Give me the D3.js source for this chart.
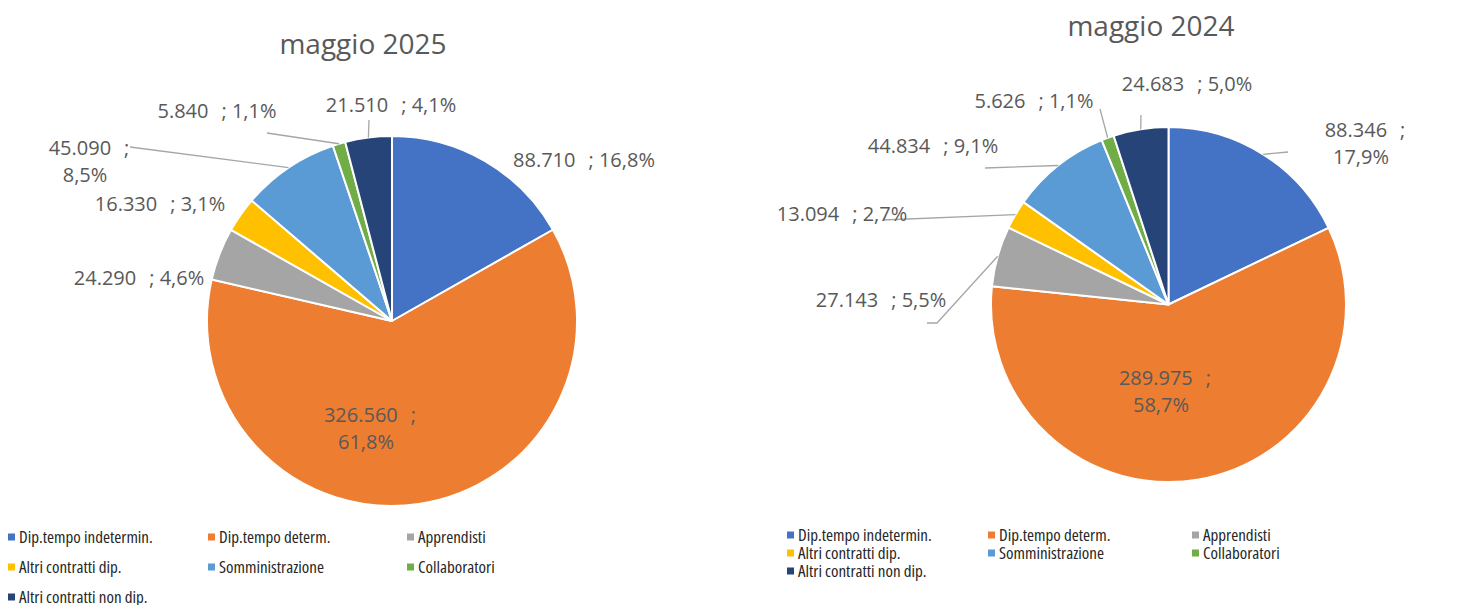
<!DOCTYPE html>
<html lang="it">
<head>
    <meta charset="UTF-8">
    <title>Contratti maggio 2025 / maggio 2024</title>
    <script src="https://d3js.org/d3.v7.min.js"></script>
    <style>
        body {
            margin: 0;
            padding: 0;
            background: #ffffff;
            font-family: "Open Sans", Arial, sans-serif;
            overflow: hidden;
        }
        .title { fill: #595959; font-size: 28px; }
        .lbl { fill: #595959; font-size: 20px; }
        .legend text { fill: #262626; font-size: 17px; font-stretch: 83%; }
    </style>
</head>
<body>
    <svg id="chart" width="1465" height="605"></svg>

    <script>
        // data
        const categories = [
            "Dip.tempo indetermin.", "Dip.tempo determ.", "Apprendisti",
            "Altri contratti dip.", "Somministrazione", "Collaboratori",
            "Altri contratti non dip."
        ];
        const values2025 = [88710, 326560, 24290, 16330, 45090, 5840, 21510];
        const values2024 = [88346, 289975, 27143, 13094, 44834, 5626, 24683];
        const titles = ["maggio 2025", "maggio 2024"];

        const colors = ["#4472C4", "#ED7D31", "#A5A5A5", "#FFC000", "#5B9BD5", "#70AD47", "#264478"];

        const it = d3.formatLocale({decimal: ",", thousands: ".", grouping: [3], currency: ["€", ""]});
        const fmtNum = it.format(",d");
        const fmtPct = it.format(".1%");

        // layout of each panel (label boxes placed by hand like in the original workbook)
        const panels = [
            {
                values: values2025, title: titles[0],
                cx: 392, cy: 321, r: 185, titleX: 363, titleY: 54,
                legend: {x: 8, y: 537, rowH: 30, cols: [0, 200, 399]},
                labels: [
                    {x: 584, y: 160},
                    {x: 370, y: 415, wrap: true},
                    {x: 139, y: 278},
                    {x: 160, y: 204},
                    {x: 89, y: 148, wrap: true, leader: [[130, 147]]},
                    {x: 217, y: 111, leader: [[267, 133]]},
                    {x: 391, y: 105, leader: [[369, 120]]}
                ]
            },
            {
                values: values2024, title: titles[1],
                cx: 1168.5, cy: 304.5, r: 177.5, titleX: 1151, titleY: 36,
                legend: {x: 787, y: 535, rowH: 18, cols: [0, 201, 405]},
                labels: [
                    {x: 1365, y: 130, wrap: true, leader: [[1288, 152]]},
                    {x: 1165, y: 378, wrap: true},
                    {x: 881, y: 300, leader: [[937, 323], [927, 323]]},
                    {x: 842, y: 214, leader: [[883, 220]]},
                    {x: 933, y: 146, leader: [[985, 168]]},
                    {x: 1034, y: 101, leader: [[1100, 109]]},
                    {x: 1187, y: 84, leader: [[1141, 115]]}
                ]
            }
        ];

        const svg = d3.select("#chart");
        const pie = d3.pie().sort(null).value(d => d);

        panels.forEach(p => {
            const total = d3.sum(p.values);
            const arcs = pie(p.values);
            const arc = d3.arc().innerRadius(0).outerRadius(p.r);
            const edge = d3.arc().innerRadius(p.r).outerRadius(p.r);

            svg.append("text")
                .attr("class", "title")
                .attr("x", p.titleX)
                .attr("y", p.titleY)
                .attr("text-anchor", "middle")
                .text(p.title);

            const g = svg.append("g")
                .attr("transform", `translate(${p.cx},${p.cy})`);

            g.selectAll("path")
                .data(arcs)
                .join("path")
                .attr("d", arc)
                .attr("fill", (d, i) => colors[i])
                .attr("stroke", "#ffffff")
                .attr("stroke-width", 2)
                .attr("stroke-linejoin", "round");

            // leader lines
            arcs.forEach((d, i) => {
                const lab = p.labels[i];
                if (!lab.leader) return;
                const c = edge.centroid(d);
                const pts = [[p.cx + c[0], p.cy + c[1]]].concat(lab.leader);
                svg.append("path")
                    .attr("d", d3.line()(pts))
                    .attr("fill", "none")
                    .attr("stroke", "#a6a6a6")
                    .attr("stroke-width", 1.3);
            });

            // data labels
            arcs.forEach((d, i) => {
                const lab = p.labels[i];
                const num = fmtNum(d.data);
                const pct = fmtPct(d.data / total);
                if (lab.wrap) {
                    const t = svg.append("text")
                        .attr("class", "lbl")
                        .attr("text-anchor", "middle")
                        .attr("x", lab.x)
                        .attr("y", lab.y)
                        .attr("dy", "0.35em");
                    t.append("tspan").text(num);
                    t.append("tspan").attr("dx", 13).text(";");
                    svg.append("text")
                        .attr("class", "lbl")
                        .attr("text-anchor", "middle")
                        .attr("x", lab.x - 4)
                        .attr("y", lab.y + 27)
                        .attr("dy", "0.35em")
                        .text(pct);
                } else {
                    const t = svg.append("text")
                        .attr("class", "lbl")
                        .attr("text-anchor", "middle")
                        .attr("x", lab.x)
                        .attr("y", lab.y)
                        .attr("dy", "0.35em");
                    t.append("tspan").text(num);
                    t.append("tspan").attr("dx", 13).text("; " + pct);
                }
            });

            // legend
            const lg = svg.append("g").attr("class", "legend");
            categories.forEach((name, i) => {
                const col = i % 3, row = Math.floor(i / 3);
                const x = p.legend.x + p.legend.cols[col];
                const y = p.legend.y + row * p.legend.rowH;
                lg.append("rect")
                    .attr("x", x)
                    .attr("y", y - 3.5)
                    .attr("width", 7)
                    .attr("height", 7)
                    .attr("fill", colors[i]);
                lg.append("text")
                    .attr("x", x + 11)
                    .attr("y", y)
                    .attr("dy", "0.35em")
                    .text(name);
            });
        });
    </script>
</body>
</html>
